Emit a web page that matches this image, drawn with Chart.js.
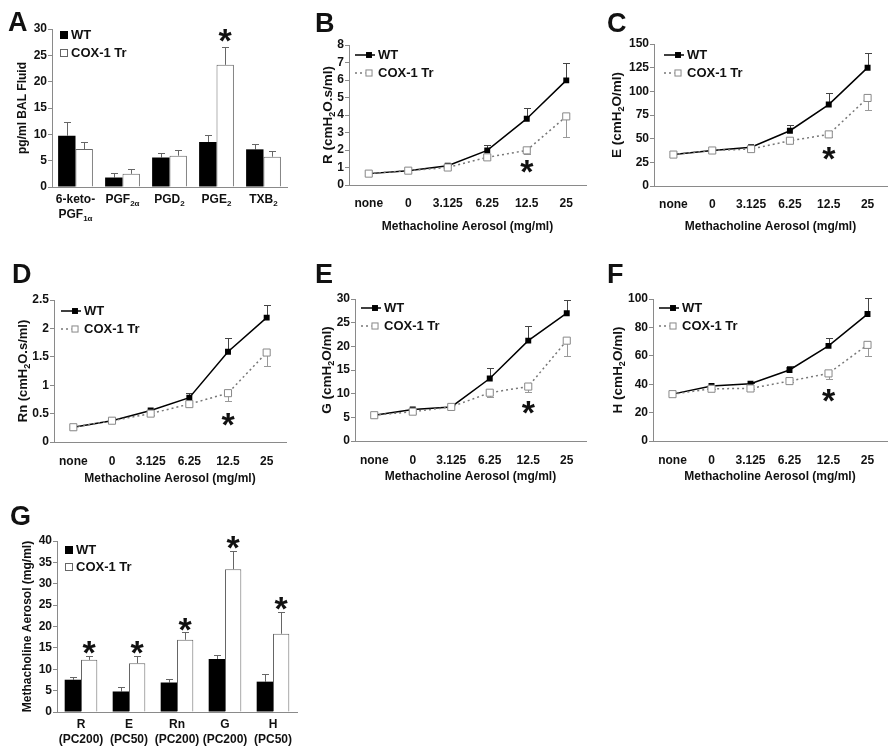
<!DOCTYPE html>
<html>
<head>
<meta charset="utf-8">
<script src="https://cdn.jsdelivr.net/npm/chart.js@4.4.0/dist/chart.umd.min.js"></script>
<style>
  body { margin: 0; background: #fff; width: 894px; height: 755px; overflow: hidden; position: relative; }
  canvas { position: absolute; }
</style>
</head>
<body>
<canvas id="A"></canvas>
<canvas id="B"></canvas>
<canvas id="C"></canvas>
<canvas id="D"></canvas>
<canvas id="E"></canvas>
<canvas id="F"></canvas>
<canvas id="G"></canvas>
<script>
// ---- panel A: prostanoids in BAL fluid
const prostNames = ['6-keto-PGF1α', 'PGF2α', 'PGD2', 'PGE2', 'TXB2'];
const prostLabels = [
    [[['6-keto-']], [['PGF'], ['1α', 1]]],
    [[['PGF'], ['2α', 1]]],
    [[['PGD'], ['2', 1]]],
    [[['PGE'], ['2', 1]]],
    [[['TXB'], ['2', 1]]]
];
const prostWT = [9.75, 1.8, 5.6, 8.55, 7.15];
const prostWTsd = [2.55, 0.85, 0.85, 1.35, 1.0];
const prostCOX = [7.2, 2.5, 5.95, 23.2, 5.75];
const prostCOXsd = [1.3, 1.0, 1.05, 3.4, 1.15];
const prostStars = [3];

// ---- panels B-F: methacholine dose response
const doses = ['none', '0', '3.125', '6.25', '12.5', '25'];
const doseStars = [4];

const rWT = [0.65, 0.82, 1.1, 1.98, 3.79, 5.98];
const rWTsd = [0, 0, 0.05, 0.3, 0.63, 0.97];
const rCOX = [0.65, 0.82, 1.0, 1.58, 1.98, 3.92];
const rCOXsd = [0, 0, 0, 0.05, 0.2, 1.16];

const eWT = [33.2, 37.5, 41, 58.4, 86, 125];
const eWTsd = [0, 0, 1, 6, 12, 15];
const eCOX = [33.2, 37.5, 39, 47.8, 54.5, 93];
const eCOXsd = [0, 0, 0, 2, 3, 13];

const rnWT = [0.26, 0.375, 0.556, 0.78, 1.59, 2.19];
const rnWTsd = [0, 0, 0.02, 0.08, 0.24, 0.23];
const rnCOX = [0.26, 0.375, 0.5, 0.667, 0.86, 1.575];
const rnCOXsd = [0, 0, 0.03, 0.04, 0.13, 0.245];

const gWT = [5.45, 6.65, 7.2, 13.2, 21.2, 27.0];
const gWTsd = [0, 0.2, 0.1, 2.2, 3.2, 2.7];
const gCOX = [5.45, 6.2, 7.2, 10.2, 11.5, 21.2];
const gCOXsd = [0, 0.3, 0, 1.0, 1.1, 3.2];

const hWT = [33, 38.7, 40.3, 50, 67, 89.4];
const hWTsd = [0, 0.5, 0.5, 2.8, 5.6, 11];
const hCOX = [33, 36.8, 37, 42.2, 47.6, 67.7];
const hCOXsd = [0, 0.5, 0.5, 1, 3.6, 7.7];

// ---- panel G: provocative concentrations
const pcNames = ['R (PC200)', 'E (PC50)', 'Rn (PC200)', 'G (PC200)', 'H (PC50)'];
const pcLabels = [
    [[['R']], [['(PC200)']]],
    [[['E']], [['(PC50)']]],
    [[['Rn']], [['(PC200)']]],
    [[['G']], [['(PC200)']]],
    [[['H']], [['(PC50)']]]
];
const pcWT = [7.55, 4.8, 6.9, 12.4, 7.1];
const pcWTsd = [0.65, 1.1, 0.8, 1.0, 1.7];
const pcCOX = [12.2, 11.4, 16.9, 33.4, 18.3];
const pcCOXsd = [0.8, 1.6, 1.7, 4.3, 5.0];
const pcStars = [0, 1, 2, 3, 4];

const FAM = '"Liberation Sans", Arial, Helvetica, sans-serif';
const INK = '#111';
const AXIS = '#8a8a8a';

function richLine(ctx, segs, cx, cy, size) {
    const sub = Math.round(size * 0.68);
    let w = 0;
    segs.forEach(s => {
        ctx.font = `bold ${s[1] ? sub : size}px ${FAM}`;
        w += ctx.measureText(s[0]).width;
    });
    let x = cx - w / 2;
    ctx.textAlign = 'left';
    ctx.textBaseline = 'middle';
    segs.forEach(s => {
        ctx.font = `bold ${s[1] ? sub : size}px ${FAM}`;
        ctx.fillText(s[0], x, cy + (s[1] ? size * 0.32 : 0));
        x += ctx.measureText(s[0]).width;
    });
}

const deco = {
    id: 'deco',
    beforeDatasetsDraw(chart) {
        const ctx = chart.ctx;
        const y = chart.scales.y;
        chart.data.datasets.forEach((ds, i) => {
            if (!ds.sd) return;
            const pts = chart.getDatasetMeta(i).data;
            ctx.save();
            ctx.strokeStyle = ds.sdColor;
            ctx.lineWidth = 1;
            ds.data.forEach((v, j) => {
                if (!ds.sd[j]) return;
                const px = Math.round(pts[j].x) + 0.5;
                const a = y.getPixelForValue(v);
                const b = Math.round(y.getPixelForValue(v + ds.sdSign * ds.sd[j])) + 0.5;
                ctx.beginPath();
                ctx.moveTo(px, a);
                ctx.lineTo(px, b);
                ctx.moveTo(px - 3.5, b);
                ctx.lineTo(px + 3.5, b);
                ctx.stroke();
            });
            ctx.restore();
        });
    },
    afterDraw(chart, args, o) {
        const ctx = chart.ctx;
        const g = o.geo;
        const area = chart.chartArea;
        ctx.save();
        ctx.fillStyle = INK;

        // panel letter
        ctx.font = `bold 27px ${FAM}`;
        ctx.textAlign = 'left';
        ctx.textBaseline = 'alphabetic';
        ctx.fillText(o.letter, o.letterAt[0] - g.L, o.letterAt[1] - g.T);

        // y title
        ctx.save();
        ctx.translate(o.yTitleX - g.L, (area.top + area.bottom) / 2);
        ctx.rotate(-Math.PI / 2);
        richLine(ctx, o.yTitle, 0, 0, o.yTitleSize);
        ctx.restore();

        // category labels with subscripts
        if (o.xRich) {
            const xs = chart.scales.x;
            o.xRich.forEach((lines, i) => {
                const cx = xs.getPixelForValue(i);
                lines.forEach((segs, k) => richLine(ctx, segs, cx, o.xRichY[k] - g.T, 12));
            });
        }

        // legend
        const lg = o.legend;
        chart.data.datasets.forEach((ds, i) => {
            const lx = area.left + lg.dx;
            const ly = area.top + lg.dy + i * lg.step;
            ctx.save();
            if (chart.config.type === 'line') {
                ctx.strokeStyle = ds.borderColor;
                ctx.lineWidth = 1.5;
                ctx.setLineDash(ds.borderDash || []);
                ctx.beginPath();
                ctx.moveTo(lx, ly);
                ctx.lineTo(lx + 20, ly);
                ctx.stroke();
                ctx.setLineDash([]);
                const s = ds.pointRadius * Math.SQRT1_2;
                ctx.fillStyle = ds.pointBackgroundColor;
                ctx.fillRect(lx + 14 - s, ly - s, 2 * s, 2 * s);
                if (ds.pointBorderWidth) {
                    ctx.strokeStyle = ds.pointBorderColor;
                    ctx.lineWidth = 1;
                    ctx.strokeRect(lx + 14 - s + 0.5, ly - s + 0.5, 2 * s - 1, 2 * s - 1);
                }
            } else {
                ctx.fillStyle = ds.backgroundColor;
                ctx.fillRect(lx, ly - 4, 8, 8);
                if (ds.borderWidth) {
                    ctx.strokeStyle = ds.borderColor;
                    ctx.lineWidth = 1;
                    ctx.strokeRect(lx + 0.5, ly - 3.5, 7, 7);
                }
            }
            ctx.restore();
            ctx.font = `bold 13px ${FAM}`;
            ctx.textAlign = 'left';
            ctx.textBaseline = 'middle';
            ctx.fillText(ds.label, lx + lg.textDx, ly + 0.5);
        });

        // significance stars
        const st = o.stars;
        const sds = chart.data.datasets[st.ds];
        const pts = chart.getDatasetMeta(st.ds).data;
        ctx.font = `bold 34px ${FAM}`;
        ctx.textAlign = 'center';
        ctx.textBaseline = 'alphabetic';
        st.idx.forEach(j => {
            const end = chart.scales.y.getPixelForValue(sds.data[j] + sds.sdSign * sds.sd[j]);
            const cy = end + (sds.sdSign > 0 ? -st.gap : st.gap);
            ctx.fillText('*', pts[j].x, cy + 34 * 0.56);
        });
        ctx.restore();
    }
};

function tickFont() {
    return { family: FAM, size: 12, weight: 'bold' };
}

function makePanel(id, geo, type, labels, datasets, yMax, yStep, extra) {
    const cv = document.getElementById(id);
    cv.width = geo.W;
    cv.height = geo.H;
    cv.style.left = geo.L + 'px';
    cv.style.top = geo.T + 'px';
    const [x0, y0, x1, y1] = geo.area;
    return new Chart(cv, {
        type: type,
        data: { labels: labels, datasets: datasets },
        options: {
            responsive: false,
            animation: false,
            devicePixelRatio: 1,
            layout: { padding: { left: 0, top: y0 - geo.T, right: geo.L + geo.W - x1, bottom: 0 } },
            plugins: {
                legend: { display: false },
                tooltip: { enabled: false },
                deco: Object.assign({ geo: geo }, extra)
            },
            scales: {
                x: {
                    offset: true,
                    grid: { display: false, drawTicks: false },
                    border: { display: true, color: AXIS, width: 1 },
                    ticks: {
                        display: !extra.xRich,
                        font: tickFont(),
                        color: INK,
                        padding: geo.tickPad || 0,
                        maxRotation: 0,
                        autoSkip: false
                    },
                    title: {
                        display: !!geo.xTitle,
                        text: geo.xTitle || '',
                        font: tickFont(),
                        color: INK,
                        padding: 0
                    },
                    afterFit: s => {
                        s.height = geo.T + geo.H - y1;
                        s.paddingLeft = 0;
                        s.paddingRight = 0;
                    }
                },
                y: {
                    min: 0,
                    max: yMax,
                    ticks: {
                        stepSize: yStep,
                        font: tickFont(),
                        color: INK,
                        padding: 1,
                        callback: v => String(+v.toFixed(2))
                    },
                    grid: { drawOnChartArea: false, drawTicks: true, tickLength: 4, color: AXIS },
                    border: { color: AXIS, width: 1 },
                    afterFit: s => {
                        s.width = x0 - geo.L;
                        s.paddingTop = 0;
                        s.paddingBottom = 0;
                    }
                }
            }
        },
        plugins: [deco]
    });
}

function barSets(wt, wtSd, cox, coxSd, catPct) {
    return [
        {
            label: 'WT', data: wt, backgroundColor: '#000', borderWidth: 0,
            categoryPercentage: catPct, barPercentage: 1,
            sd: wtSd, sdSign: 1, sdColor: '#666'
        },
        {
            label: 'COX-1 Tr', data: cox, backgroundColor: '#fff', borderColor: '#666', borderWidth: 1,
            categoryPercentage: catPct, barPercentage: 1,
            sd: coxSd, sdSign: 1, sdColor: '#666'
        }
    ];
}

function lineSets(wt, wtSd, cox, coxSd) {
    return [
        {
            label: 'WT', data: wt, borderColor: '#000', borderWidth: 1.5, tension: 0,
            pointStyle: 'rect', pointRadius: 4.2, pointBackgroundColor: '#000',
            pointBorderColor: '#000', pointBorderWidth: 0, order: 2,
            sd: wtSd, sdSign: 1, sdColor: '#444'
        },
        {
            label: 'COX-1 Tr', data: cox, borderColor: '#777', borderWidth: 1.5, borderDash: [2, 3], tension: 0,
            pointStyle: 'rect', pointRadius: 5, pointBackgroundColor: '#fff',
            pointBorderColor: '#888', pointBorderWidth: 1, order: 1,
            sd: coxSd, sdSign: -1, sdColor: '#999'
        }
    ];
}

const doseTitle = 'Methacholine Aerosol (mg/ml)';
const lineLegend = (dx, dy) => ({ dx: dx, dy: dy, step: 18, textDx: 23 });
const cmH2O = (p, rest) => [[p + ' (cmH'], ['2', 1], ['O' + rest]];

function main() {
    makePanel('A', { L: 0, T: 0, W: 292, H: 230, area: [52, 29, 287, 187] }, 'bar', prostNames,
        barSets(prostWT, prostWTsd, prostCOX, prostCOXsd, 0.74), 30, 5, {
            letter: 'A', letterAt: [8, 31],
            yTitle: [['pg/ml BAL Fluid']], yTitleX: 23, yTitleSize: 12,
            xRich: prostLabels, xRichY: [200, 215],
            legend: { dx: 8, dy: 6, step: 18, textDx: 11 },
            stars: { ds: 1, idx: prostStars, gap: 14 }
        });

    makePanel('B', { L: 292, T: 0, W: 300, H: 234, area: [349, 45, 592, 185], tickPad: 11.8, xTitle: doseTitle },
        'line', doses, lineSets(rWT, rWTsd, rCOX, rCOXsd), 8, 1, {
            letter: 'B', letterAt: [315, 32],
            yTitle: cmH2O('R', '.s/ml)'), yTitleX: 328, yTitleSize: 13.5,
            legend: lineLegend(6, 10),
            stars: { ds: 1, idx: doseStars, gap: 10 }
        });

    makePanel('C', { L: 594, T: 0, W: 300, H: 234, area: [654, 44, 887, 186], tickPad: 11.8, xTitle: doseTitle },
        'line', doses, lineSets(eWT, eWTsd, eCOX, eCOXsd), 150, 25, {
            letter: 'C', letterAt: [607, 32],
            yTitle: cmH2O('E', '/ml)'), yTitleX: 617, yTitleSize: 13.5,
            legend: lineLegend(10, 11),
            stars: { ds: 1, idx: doseStars, gap: 14 }
        });

    makePanel('D', { L: 0, T: 250, W: 292, H: 236, area: [54, 300, 288, 442], tickPad: 12.8, xTitle: doseTitle },
        'line', doses, lineSets(rnWT, rnWTsd, rnCOX, rnCOXsd), 2.5, 0.5, {
            letter: 'D', letterAt: [12, 283],
            yTitle: cmH2O('Rn', '.s/ml)'), yTitleX: 23, yTitleSize: 13,
            legend: lineLegend(7, 11),
            stars: { ds: 1, idx: doseStars, gap: 16 }
        });

    makePanel('E', { L: 292, T: 250, W: 300, H: 234, area: [355, 299, 592, 441], tickPad: 12.8, xTitle: doseTitle },
        'line', doses, lineSets(gWT, gWTsd, gCOX, gCOXsd), 30, 5, {
            letter: 'E', letterAt: [315, 283],
            yTitle: cmH2O('G', '/ml)'), yTitleX: 327, yTitleSize: 13.5,
            legend: lineLegend(6, 9),
            stars: { ds: 1, idx: doseStars, gap: 13 }
        });

    makePanel('F', { L: 594, T: 250, W: 300, H: 234, area: [653, 299, 887, 441], tickPad: 12.8, xTitle: doseTitle },
        'line', doses, lineSets(hWT, hWTsd, hCOX, hCOXsd), 100, 20, {
            letter: 'F', letterAt: [607, 283],
            yTitle: cmH2O('H', '/ml)'), yTitleX: 618, yTitleSize: 13.5,
            legend: lineLegend(6, 9),
            stars: { ds: 1, idx: doseStars, gap: 14 }
        });

    makePanel('G', { L: 0, T: 490, W: 300, H: 265, area: [57, 541, 297, 712] }, 'bar', pcNames,
        barSets(pcWT, pcWTsd, pcCOX, pcCOXsd, 0.68), 40, 5, {
            letter: 'G', letterAt: [10, 525],
            yTitle: [['Methacholine Aerosol (mg/ml)']], yTitleX: 28, yTitleSize: 12,
            xRich: pcLabels, xRichY: [725, 740],
            legend: { dx: 8, dy: 9, step: 17, textDx: 11 },
            stars: { ds: 1, idx: pcStars, gap: 11 }
        });
}

window.addEventListener('DOMContentLoaded', main);
</script>
</body>
</html>
